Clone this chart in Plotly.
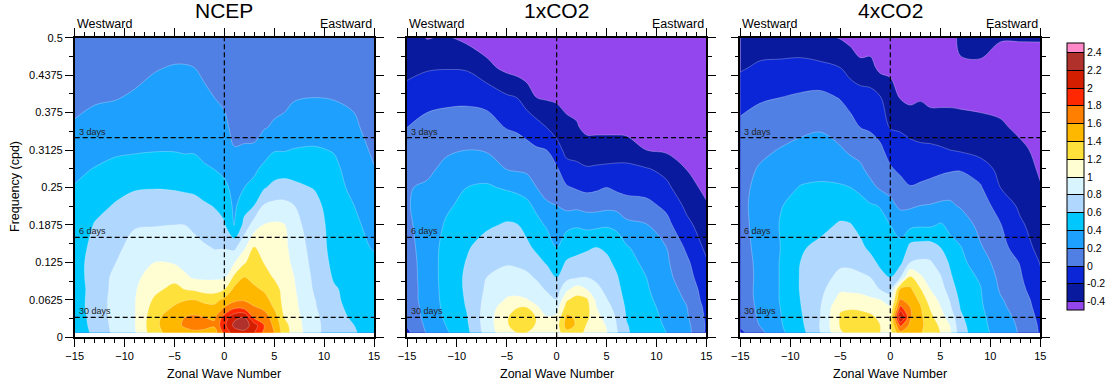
import numpy as np
import plotly.graph_objects as go

# ---------------- data ----------------
WAVENUMBERS = [-15, -13, -11, -9, -7, -5, -4, -3, -2, -1, 0, 1, 2, 3, 4, 5, 6, 7, 9, 11, 13, 15]
FREQUENCIES = [0.0078, 0.02, 0.0333, 0.05, 0.0625, 0.08, 0.1, 0.125, 0.15, 0.1875,
               0.22, 0.25, 0.28, 0.3125, 0.35, 0.4, 0.45, 0.5]

# one row per wavenumber (same order as WAVENUMBERS), values along FREQUENCIES
NCEP_POWER = [
    [0.45, 0.47, 0.48, 0.50, 0.50, 0.50, 0.52, 0.52, 0.50, 0.48, 0.45, 0.41, 0.36, 0.31, 0.22, 0.15, 0.10, 0.08],
    [0.65, 0.67, 0.68, 0.69, 0.69, 0.68, 0.68, 0.68, 0.66, 0.61, 0.55, 0.47, 0.41, 0.33, 0.26, 0.18, 0.10, 0.08],
    [0.84, 0.85, 0.86, 0.86, 0.86, 0.85, 0.84, 0.79, 0.74, 0.67, 0.61, 0.55, 0.45, 0.37, 0.29, 0.19, 0.12, 0.08],
    [0.98, 0.99, 0.99, 0.99, 0.99, 0.98, 0.96, 0.92, 0.88, 0.78, 0.68, 0.58, 0.48, 0.38, 0.32, 0.22, 0.15, 0.10],
    [1.33, 1.35, 1.33, 1.28, 1.23, 1.15, 1.08, 1.00, 0.92, 0.79, 0.70, 0.59, 0.50, 0.39, 0.33, 0.25, 0.19, 0.10],
    [1.50, 1.55, 1.55, 1.42, 1.35, 1.26, 1.14, 0.98, 0.93, 0.80, 0.70, 0.58, 0.50, 0.39, 0.34, 0.27, 0.21, 0.12],
    [1.55, 1.62, 1.60, 1.47, 1.39, 1.20, 1.03, 0.95, 0.90, 0.80, 0.68, 0.57, 0.48, 0.38, 0.33, 0.27, 0.21, 0.12],
    [1.56, 1.68, 1.63, 1.50, 1.40, 1.17, 0.98, 0.92, 0.86, 0.76, 0.66, 0.56, 0.48, 0.38, 0.33, 0.26, 0.20, 0.12],
    [1.55, 1.66, 1.60, 1.46, 1.35, 1.12, 0.97, 0.88, 0.82, 0.71, 0.62, 0.53, 0.42, 0.36, 0.30, 0.23, 0.17, 0.10],
    [1.50, 1.63, 1.58, 1.45, 1.33, 1.12, 0.97, 0.86, 0.79, 0.67, 0.59, 0.50, 0.40, 0.34, 0.28, 0.20, 0.13, 0.10],
    [1.85, 1.95, 1.88, 1.60, 1.45, 1.20, 0.98, 0.88, 0.79, 0.62, 0.53, 0.43, 0.37, 0.30, 0.24, 0.17, 0.10, 0.08],
    [2.10, 2.25, 2.15, 1.75, 1.55, 1.45, 1.25, 0.99, 0.75, 0.37, 0.36, 0.36, 0.30, 0.21, 0.15, 0.12, 0.10, 0.08],
    [2.15, 2.30, 2.20, 1.72, 1.58, 1.47, 1.41, 1.18, 0.97, 0.66, 0.52, 0.40, 0.33, 0.22, 0.15, 0.12, 0.10, 0.08],
    [2.00, 2.10, 1.75, 1.62, 1.50, 1.43, 1.35, 1.30, 1.21, 0.90, 0.60, 0.45, 0.37, 0.22, 0.16, 0.13, 0.10, 0.08],
    [1.75, 1.80, 1.70, 1.55, 1.45, 1.38, 1.30, 1.19, 1.12, 1.01, 0.82, 0.58, 0.45, 0.32, 0.19, 0.14, 0.11, 0.09],
    [1.60, 1.55, 1.50, 1.38, 1.35, 1.30, 1.18, 1.13, 1.10, 1.03, 0.85, 0.66, 0.50, 0.39, 0.22, 0.15, 0.12, 0.10],
    [1.30, 1.28, 1.20, 1.15, 1.13, 1.12, 1.10, 1.08, 1.05, 1.01, 0.85, 0.68, 0.52, 0.39, 0.23, 0.17, 0.12, 0.10],
    [1.12, 1.10, 1.08, 1.05, 1.04, 1.02, 1.00, 0.95, 0.92, 0.86, 0.80, 0.64, 0.53, 0.41, 0.27, 0.19, 0.12, 0.10],
    [0.85, 0.85, 0.84, 0.82, 0.81, 0.78, 0.76, 0.74, 0.72, 0.70, 0.66, 0.59, 0.50, 0.42, 0.30, 0.20, 0.13, 0.10],
    [0.70, 0.70, 0.69, 0.66, 0.64, 0.62, 0.58, 0.55, 0.53, 0.52, 0.50, 0.47, 0.44, 0.39, 0.30, 0.19, 0.13, 0.10],
    [0.62, 0.60, 0.56, 0.53, 0.52, 0.53, 0.56, 0.52, 0.48, 0.44, 0.40, 0.35, 0.32, 0.28, 0.23, 0.17, 0.12, 0.10],
    [0.50, 0.50, 0.48, 0.47, 0.47, 0.48, 0.50, 0.45, 0.38, 0.33, 0.30, 0.26, 0.21, 0.17, 0.13, 0.10, 0.08, 0.07],
]

CO2X1_POWER = [
    [-0.05, 0.02, 0.06, 0.08, 0.10, 0.10, 0.11, 0.12, 0.14, 0.17, 0.19, 0.19, 0.15, 0.10, 0.00, -0.12, -0.26, -0.30],
    [0.22, 0.24, 0.26, 0.27, 0.28, 0.28, 0.28, 0.28, 0.28, 0.27, 0.25, 0.22, 0.17, 0.12, 0.06, -0.06, -0.22, -0.41],
    [0.38, 0.41, 0.44, 0.46, 0.47, 0.48, 0.49, 0.49, 0.48, 0.43, 0.37, 0.30, 0.24, 0.18, 0.10, -0.05, -0.21, -0.38],
    [0.55, 0.57, 0.59, 0.61, 0.62, 0.63, 0.63, 0.61, 0.58, 0.52, 0.46, 0.40, 0.30, 0.20, 0.10, -0.04, -0.22, -0.45],
    [0.88, 0.90, 0.90, 0.88, 0.86, 0.83, 0.80, 0.74, 0.68, 0.57, 0.48, 0.42, 0.33, 0.18, 0.08, -0.06, -0.35, -0.50],
    [1.15, 1.18, 1.18, 1.12, 1.02, 0.94, 0.87, 0.78, 0.70, 0.62, 0.50, 0.38, 0.20, 0.13, -0.01, -0.17, -0.45, -0.55],
    [1.20, 1.28, 1.30, 1.19, 1.03, 0.95, 0.86, 0.77, 0.70, 0.61, 0.48, 0.36, 0.18, 0.10, -0.03, -0.20, -0.48, -0.55],
    [1.20, 1.28, 1.30, 1.20, 1.01, 0.93, 0.84, 0.74, 0.64, 0.54, 0.44, 0.33, 0.16, 0.05, -0.06, -0.30, -0.50, -0.55],
    [1.12, 1.18, 1.19, 1.02, 0.95, 0.86, 0.78, 0.66, 0.56, 0.45, 0.36, 0.20, 0.12, 0.02, -0.12, -0.40, -0.50, -0.55],
    [1.08, 1.10, 1.01, 0.93, 0.87, 0.78, 0.70, 0.58, 0.50, 0.38, 0.22, 0.15, 0.07, 0.00, -0.20, -0.42, -0.50, -0.55],
    [1.10, 1.12, 1.04, 0.92, 0.80, 0.70, 0.60, 0.50, 0.40, 0.30, 0.20, 0.12, 0.03, -0.12, -0.28, -0.43, -0.52, -0.55],
    [1.35, 1.48, 1.45, 1.28, 1.18, 0.95, 0.74, 0.62, 0.50, 0.36, 0.14, 0.02, -0.12, -0.26, -0.36, -0.45, -0.52, -0.55],
    [1.30, 1.38, 1.37, 1.32, 1.27, 1.10, 0.78, 0.65, 0.54, 0.38, 0.15, -0.02, -0.15, -0.27, -0.38, -0.47, -0.52, -0.55],
    [1.15, 1.19, 1.25, 1.28, 1.24, 1.00, 0.80, 0.68, 0.57, 0.35, 0.12, -0.05, -0.18, -0.30, -0.45, -0.50, -0.55, -0.55],
    [1.05, 1.08, 1.06, 1.00, 0.95, 0.85, 0.76, 0.68, 0.60, 0.36, 0.12, -0.03, -0.17, -0.30, -0.45, -0.50, -0.55, -0.55],
    [1.01, 0.99, 0.93, 0.86, 0.81, 0.75, 0.70, 0.64, 0.57, 0.38, 0.14, 0.00, -0.16, -0.30, -0.45, -0.50, -0.55, -0.55],
    [0.82, 0.80, 0.78, 0.74, 0.70, 0.66, 0.62, 0.56, 0.50, 0.36, 0.13, -0.04, -0.15, -0.30, -0.45, -0.50, -0.55, -0.55],
    [0.62, 0.61, 0.59, 0.57, 0.55, 0.52, 0.50, 0.46, 0.42, 0.25, 0.08, -0.06, -0.15, -0.30, -0.46, -0.50, -0.55, -0.55],
    [0.50, 0.49, 0.48, 0.46, 0.44, 0.42, 0.40, 0.36, 0.30, 0.21, 0.05, -0.07, -0.18, -0.40, -0.50, -0.55, -0.55, -0.55],
    [0.40, 0.38, 0.36, 0.34, 0.32, 0.29, 0.26, 0.23, 0.20, 0.06, -0.04, -0.16, -0.25, -0.43, -0.52, -0.55, -0.55, -0.55],
    [0.28, 0.26, 0.23, 0.21, 0.18, 0.14, 0.08, 0.04, -0.03, -0.15, -0.24, -0.32, -0.40, -0.50, -0.55, -0.55, -0.55, -0.55],
    [-0.03, -0.02, -0.03, -0.05, -0.08, -0.10, -0.13, -0.18, -0.24, -0.30, -0.38, -0.45, -0.50, -0.55, -0.55, -0.55, -0.55, -0.55],
]

CO2X4_POWER = [
    [-0.05, 0.03, 0.07, 0.09, 0.10, 0.11, 0.12, 0.13, 0.14, 0.15, 0.16, 0.15, 0.13, 0.10, 0.05, -0.08, -0.22, -0.30],
    [0.15, 0.21, 0.23, 0.24, 0.25, 0.25, 0.24, 0.24, 0.25, 0.26, 0.26, 0.25, 0.22, 0.16, 0.09, -0.02, -0.17, -0.30],
    [0.36, 0.38, 0.39, 0.40, 0.41, 0.41, 0.41, 0.41, 0.40, 0.41, 0.39, 0.33, 0.27, 0.21, 0.12, 0.00, -0.16, -0.30],
    [0.52, 0.55, 0.57, 0.59, 0.60, 0.61, 0.61, 0.60, 0.58, 0.52, 0.46, 0.41, 0.33, 0.25, 0.16, 0.03, -0.15, -0.30],
    [0.80, 0.81, 0.80, 0.79, 0.77, 0.74, 0.71, 0.68, 0.64, 0.55, 0.48, 0.42, 0.36, 0.28, 0.18, 0.05, -0.16, -0.35],
    [1.18, 1.22, 1.22, 1.18, 1.08, 0.97, 0.86, 0.76, 0.70, 0.62, 0.52, 0.42, 0.32, 0.22, 0.12, -0.01, -0.20, -0.41],
    [1.25, 1.30, 1.30, 1.17, 1.08, 0.96, 0.86, 0.76, 0.70, 0.61, 0.50, 0.40, 0.28, 0.17, 0.07, -0.07, -0.28, -0.45],
    [1.25, 1.30, 1.28, 1.16, 1.07, 0.95, 0.84, 0.72, 0.64, 0.55, 0.46, 0.36, 0.24, 0.13, 0.00, -0.10, -0.35, -0.50],
    [1.22, 1.28, 1.25, 1.12, 1.03, 0.92, 0.80, 0.66, 0.56, 0.49, 0.42, 0.26, 0.14, 0.08, -0.02, -0.13, -0.34, -0.50],
    [1.20, 1.20, 1.15, 1.08, 1.00, 0.79, 0.66, 0.56, 0.50, 0.45, 0.39, 0.17, 0.10, 0.03, -0.06, -0.19, -0.45, -0.50],
    [1.15, 1.17, 1.12, 1.02, 0.90, 0.72, 0.60, 0.45, 0.42, 0.40, 0.27, 0.12, 0.02, -0.06, -0.21, -0.30, -0.45, -0.50],
    [1.55, 1.85, 2.25, 1.85, 1.62, 1.45, 0.78, 0.55, 0.42, 0.37, 0.15, 0.06, -0.03, -0.12, -0.22, -0.41, -0.50, -0.55],
    [1.45, 1.55, 1.62, 1.60, 1.52, 1.44, 1.25, 0.80, 0.66, 0.35, 0.17, 0.01, -0.08, -0.15, -0.25, -0.45, -0.52, -0.55],
    [1.42, 1.45, 1.45, 1.42, 1.36, 1.22, 1.04, 0.83, 0.68, 0.37, 0.20, 0.03, -0.07, -0.17, -0.26, -0.42, -0.52, -0.55],
    [1.30, 1.30, 1.26, 1.18, 1.10, 1.00, 0.90, 0.82, 0.68, 0.37, 0.21, 0.06, -0.06, -0.16, -0.30, -0.45, -0.52, -0.55],
    [1.20, 1.17, 1.08, 1.01, 0.96, 0.89, 0.82, 0.71, 0.60, 0.42, 0.23, 0.10, -0.04, -0.18, -0.30, -0.45, -0.52, -0.55],
    [1.03, 0.99, 0.92, 0.82, 0.78, 0.70, 0.63, 0.57, 0.45, 0.36, 0.23, 0.12, -0.02, -0.20, -0.30, -0.45, -0.52, -0.50],
    [0.68, 0.66, 0.63, 0.59, 0.56, 0.52, 0.48, 0.45, 0.41, 0.32, 0.18, 0.10, -0.01, -0.22, -0.32, -0.45, -0.44, -0.34],
    [0.47, 0.46, 0.45, 0.43, 0.42, 0.41, 0.38, 0.30, 0.22, 0.14, 0.08, 0.02, -0.08, -0.28, -0.35, -0.45, -0.43, -0.33],
    [0.32, 0.30, 0.28, 0.24, 0.22, 0.18, 0.15, 0.11, 0.07, 0.01, -0.07, -0.20, -0.26, -0.30, -0.37, -0.47, -0.52, -0.38],
    [0.18, 0.17, 0.15, 0.12, 0.10, 0.05, 0.02, -0.01, -0.10, -0.17, -0.24, -0.28, -0.32, -0.36, -0.44, -0.50, -0.53, -0.38],
    [-0.02, -0.03, -0.05, -0.08, -0.10, -0.13, -0.17, -0.21, -0.26, -0.30, -0.34, -0.39, -0.42, -0.45, -0.47, -0.50, -0.52, -0.38],
]

PANEL_TITLES = ["NCEP", "1xCO2", "4xCO2"]
LEVELS = [-0.4, -0.2, 0, 0.2, 0.4, 0.6, 0.8, 1, 1.2, 1.4, 1.6, 1.8, 2, 2.2, 2.4]
LEVEL_LABELS = ["-0.4", "-0.2", "0", "0.2", "0.4", "0.6", "0.8", "1", "1.2", "1.4",
                "1.6", "1.8", "2", "2.2", "2.4"]
BAND_COLORS = ["#9446EE", "#0A1A9E", "#0A26D6", "#5080E4", "#1EA0FF", "#00C8FF",
               "#B0D8FF", "#D8F4FF", "#FFFDD2", "#FFE13C", "#FFB800", "#FF8000",
               "#FF2800", "#D41E00", "#B0302C", "#FF88C8"]
PERIOD_LINES = [(1 / 3, "3 days"), (1 / 6, "6 days"), (1 / 30, "30 days")]
Y_TICKS = [0, 0.0625, 0.125, 0.1875, 0.25, 0.3125, 0.375, 0.4375, 0.5]
Y_TICK_TEXT = ["0", "0.0625", "0.125", "0.1875", "0.25", "0.3125", "0.375", "0.4375", "0.5"]
X_TICKS = [-15, -10, -5, 0, 5, 10, 15]

# ---------------- figure ----------------
W, H = 1114, 387
FONT = "Liberation Sans, Arial, Helvetica, sans-serif"

nb = len(BAND_COLORS)
colorscale = []
for j, c in enumerate(BAND_COLORS):
    lo = max(0.0, (j - 0.5) / (nb - 1))
    hi = min(1.0, (j + 0.5) / (nb - 1))
    colorscale.append([lo, c])
    colorscale.append([hi, c])

x_domains = [(74.7 / W, 374.0 / W), (407.0 / W, 706.3 / W), (740.3 / W, 1040.3 / W)]
y_domain = (1 - 337.3 / H, 1 - 37.7 / H)
contour_levels = dict(start=LEVELS[0], end=LEVELS[-1], size=0.2, coloring="fill", showlines=True)

fig = go.Figure()
panels = [NCEP_POWER, CO2X1_POWER, CO2X4_POWER]
for i, data in enumerate(panels):
    z = np.array(data).T
    xa = "x" if i == 0 else f"x{i + 1}"
    ya = "y" if i == 0 else f"y{i + 1}"
    fig.add_trace(go.Contour(
        x=WAVENUMBERS, y=FREQUENCIES, z=z,
        xaxis=xa, yaxis=ya,
        colorscale=colorscale,
        autocontour=False,
        contours=contour_levels,
        line=dict(width=0.6, color="rgba(255,255,255,0.45)", smoothing=1.0),
        showscale=False,
        hoverinfo="skip",
    ))

# invisible copy of the first panel that only carries the shared colour bar
fig.add_trace(go.Contour(
    x=WAVENUMBERS, y=FREQUENCIES, z=np.array(NCEP_POWER).T,
    xaxis="x", yaxis="y", opacity=0,
    colorscale=colorscale, autocontour=False, contours=contour_levels,
    line=dict(width=1, color="black", smoothing=1.0),
    showscale=True,
    colorbar=dict(
        x=1067 / W, xanchor="left", thickness=17, ypad=0, xpad=0,
        y=1 - 177 / H, yanchor="middle", len=266.5 / H, lenmode="fraction",
        tickvals=LEVELS, ticktext=LEVEL_LABELS, ticks="",
        tickfont=dict(size=10.5, family=FONT, color="black"),
        outlinewidth=1, outlinecolor="black",
    ),
    hoverinfo="skip",
))

axis_common = dict(
    showline=True, linewidth=1.5, linecolor="black", mirror="allticks",
    ticks="outside", ticklen=8, tickwidth=1.2, tickcolor="black",
    showgrid=False, zeroline=False,
    tickfont=dict(size=11, family=FONT, color="black"),
)
layout = dict(
    width=W, height=H,
    margin=dict(l=0, r=0, t=0, b=0, autoexpand=False),
    paper_bgcolor="white", plot_bgcolor="white",
    showlegend=False,
    font=dict(family=FONT, color="black"),
)
for i in range(3):
    xkey = "xaxis" if i == 0 else f"xaxis{i + 1}"
    ykey = "yaxis" if i == 0 else f"yaxis{i + 1}"
    anchor_y = "y" if i == 0 else f"y{i + 1}"
    anchor_x = "x" if i == 0 else f"x{i + 1}"
    layout[xkey] = dict(
        axis_common, domain=list(x_domains[i]), anchor=anchor_y, range=[-15, 15],
        tickvals=X_TICKS,
        minor=dict(dtick=1, tick0=0, ticklen=4, ticks="outside", tickcolor="black", tickwidth=1),
    )
    layout[ykey] = dict(
        axis_common, domain=list(y_domain), anchor=anchor_x, range=[0, 0.5],
        tickvals=Y_TICKS, ticktext=Y_TICK_TEXT, showticklabels=(i == 0),
        minor=dict(tickvals=[v + 0.03125 for v in Y_TICKS[:-1]], ticklen=4, ticks="outside",
                   tickcolor="black", tickwidth=1),
    )
fig.update_layout(**layout)

shapes = []
annotations = []
for i in range(3):
    xr = "x" if i == 0 else f"x{i + 1}"
    yr = "y" if i == 0 else f"y{i + 1}"
    shapes.append(dict(type="line", xref=xr, yref=yr, x0=0, x1=0, y0=0, y1=0.5,
                       line=dict(color="black", width=1.2, dash="5px,3px")))
    for f, label in PERIOD_LINES:
        shapes.append(dict(type="line", xref=xr, yref=yr, x0=-15, x1=15, y0=f, y1=f,
                           line=dict(color="black", width=1.2, dash="5px,3px")))
        annotations.append(dict(xref=xr, yref=yr, x=-14.8, y=f, text=label, showarrow=False,
                                xanchor="left", yanchor="bottom", yshift=-1,
                                font=dict(size=9, family=FONT, color="#222")))
    cx = (x_domains[i][0] + x_domains[i][1]) / 2
    annotations.append(dict(xref="paper", yref="paper", x=cx, y=1 - 11 / H, text=PANEL_TITLES[i],
                            showarrow=False, xanchor="center", yanchor="middle",
                            font=dict(size=21, family=FONT, color="black")))
    annotations.append(dict(xref="paper", yref="paper", x=x_domains[i][0], y=1 - 24 / H,
                            text="Westward", showarrow=False, xanchor="left", yanchor="middle",
                            font=dict(size=12.5, family=FONT, color="black")))
    annotations.append(dict(xref="paper", yref="paper", x=x_domains[i][1], y=1 - 24 / H,
                            text="Eastward", showarrow=False, xanchor="right", yanchor="middle",
                            font=dict(size=12.5, family=FONT, color="black")))
    annotations.append(dict(xref="paper", yref="paper", x=cx, y=1 - 374 / H,
                            text="Zonal Wave Number", showarrow=False, xanchor="center",
                            yanchor="middle", font=dict(size=12.5, family=FONT, color="black")))
annotations.append(dict(xref="paper", yref="paper", x=15 / W, y=1 - 187 / H,
                        text="Frequency (cpd)", showarrow=False, textangle=-90,
                        xanchor="center", yanchor="middle",
                        font=dict(size=12.5, family=FONT, color="black")))
fig.update_layout(shapes=shapes, annotations=annotations)

fig.write_html("out.html")
